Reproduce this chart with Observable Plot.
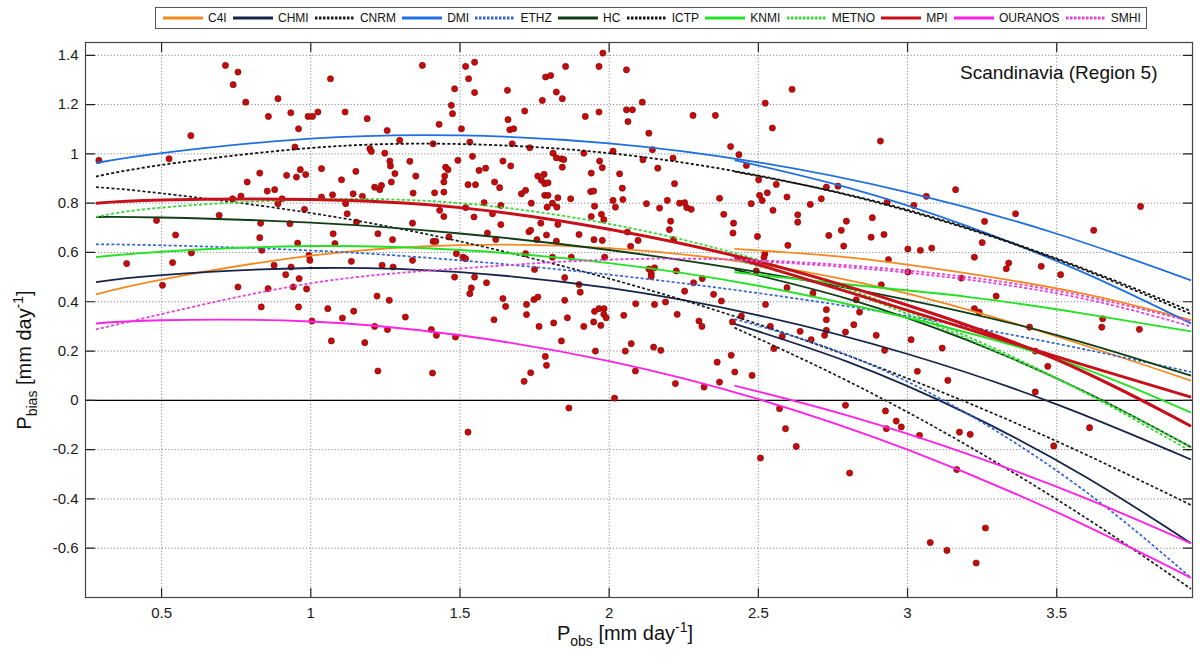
<!DOCTYPE html>
<html><head><meta charset="utf-8">
<script src="https://cdn.jsdelivr.net/npm/d3@7"></script>
<script src="https://cdn.jsdelivr.net/npm/@observablehq/plot@0.6"></script>
<style>
body{margin:0;background:#fff;font-family:"Liberation Sans",Arial,sans-serif;}
#legendWrap{height:34px;position:relative;}
#legend{position:absolute;left:155px;top:7px;width:992px;height:22px;border:1px solid #555;box-sizing:border-box;display:flex;align-items:center;justify-content:space-between;padding:0 5px 0 6px;font-size:12px;color:#111;}
.item{display:flex;align-items:center;gap:4px;}
</style></head><body>
<div id="legendWrap"><div id="legend"></div></div>
<div id="chart"></div>
<script>
// ---- data ----
const models = ["C4I","CHMI","CNRM","DMI","ETHZ","HC","ICTP","KNMI","METNO","MPI","OURANOS","SMHI"];
const fullX = [0.28, 0.5, 1.0, 1.5, 2.0, 2.5, 3.0, 3.5, 3.95];
const secX  = [2.42, 2.8, 3.2, 3.6, 3.95];

const c4iFull  = [0.43, 0.49, 0.587, 0.63, 0.618, 0.553, 0.433, 0.259, 0.08];
const chmiFull = [0.48, 0.508, 0.537, 0.52, 0.456, 0.345, 0.188, -0.016, -0.24];
const cnrmFull = [0.865, 0.84, 0.76, 0.645, 0.494, 0.309, 0.089, -0.166, -0.425];
const dmiFull  = [0.963, 1.003, 1.062, 1.075, 1.043, 0.966, 0.844, 0.676, 0.487];
const ethzFull = [0.633, 0.629, 0.608, 0.568, 0.51, 0.435, 0.342, 0.23, 0.115];
const hcFull   = [0.744, 0.742, 0.721, 0.677, 0.61, 0.52, 0.408, 0.265, 0.10];
const ictpFull = [0.908, 0.955, 1.024, 1.04, 1.003, 0.912, 0.769, 0.572, 0.35];
const knmiFull = [0.581, 0.603, 0.626, 0.61, 0.557, 0.465, 0.335, 0.168, -0.05];
const metnoFull= [0.744, 0.782, 0.815, 0.80, 0.716, 0.57, 0.361, 0.09, -0.207];
const mpiFull  = [0.80, 0.813, 0.815, 0.782, 0.694, 0.563, 0.386, 0.165, -0.105];
const ouraFull = [0.312, 0.325, 0.32, 0.264, 0.159, 0.005, -0.20, -0.454, -0.72];
const smhiFull = [0.288, 0.35, 0.475, 0.535, 0.571, 0.568, 0.527, 0.445, 0.32];

const c4iSec   = [0.615, 0.58, 0.515, 0.43, 0.325];
const chmiSec  = [0.31, 0.156, -0.054, -0.313, -0.58];
const cnrmSec  = [0.295, 0.078, -0.183, -0.479, -0.765];
const dmiSec   = [0.975, 0.863, 0.707, 0.513, 0.312];
const ethzSec  = [0.33, 0.183, -0.054, -0.373, -0.72];
const hcSec    = [0.53, 0.412, 0.244, 0.032, -0.19];
const ictpSec  = [0.928, 0.835, 0.70, 0.53, 0.362];
const knmiSec  = [0.52, 0.47, 0.42, 0.35, 0.28];
const metnoSec = [0.57, 0.44, 0.25, 0.03, -0.19];
const mpiSec   = [0.58, 0.44, 0.29, 0.14, 0.013];
const ouraSec  = [0.06, -0.062, -0.217, -0.399, -0.58];
const smhiSec  = [0.57, 0.54, 0.49, 0.41, 0.30];

const obsX = [0.29,0.383,0.483,0.503,0.525,0.537,0.547,0.598,0.60,0.693,0.714,0.74,0.756,0.738,0.756,0.766,0.782,0.787,0.829,0.829,0.832,0.834,0.836,0.854,0.857,0.858,0.877,0.879,0.89,0.89,0.904,0.916,0.919,0.93,0.933,0.934,0.941,0.947,0.952,0.956,0.959,0.961,0.959,0.965,0.979,0.983,0.986,0.991,0.994,0.997,1.006,1.024,1.036,1.036,1.057,1.066,1.073,1.075,1.081,1.103,1.106,1.115,1.117,1.122,1.136,1.142,1.144,1.151,1.153,1.173,1.189,1.198,1.203,1.214,1.222,1.225,1.231,1.237,1.239,1.248,1.256,1.263,1.265,1.267,1.27,1.274,1.282,1.276,1.298,1.317,1.332,1.341,1.343,1.341,1.352,1.374,1.41,1.415,1.43,1.432,1.41,1.419,1.446,1.446,1.446,1.449,1.452,1.46,1.463,1.471,1.475,1.482,1.482,1.488,1.493,
1.004,1.069,1.181,1.214,1.225,1.257,1.404,1.408,1.421,1.485,
1.519,1.549,1.529,1.549,1.505,1.533,1.542,1.586,1.564,1.527,1.552,1.519,1.547,1.581,1.616,1.633,1.644,1.67,1.659,1.661,1.667,1.68,1.675,1.637,1.637,1.609,1.62,1.592,1.51,1.519,1.549,1.538,1.533,1.589,1.644,1.653,1.614,1.706,1.72,1.734,1.717,1.739,1.731,1.737,1.758,1.72,1.75,1.748,1.761,1.723,1.723,1.765,1.761,1.773,1.784,1.795,1.782,1.776,1.787,1.804,1.823,1.843,1.854,1.784,1.795,1.81,1.828,1.871,1.825,1.792,1.812,1.823,1.84,1.843,1.848,1.771,1.828,1.79,1.823,1.81,1.873,1.899,1.851,1.899,1.903,1.851,1.86,1.814,1.915,1.915,1.94,1.938,1.948,1.951,1.94,1.949,1.974,1.982,1.92,1.966,1.966,1.979,1.968,1.977,1.977,1.985,1.951,1.966,1.983,1.982,1.99,1.948,1.972,2.013,2.035,2.044,2.013,2.021,2.046,2.058,2.058,2.078,2.063,2.111,2.133,2.145,2.113,2.163,2.214,2.219,2.125,2.169,2.195,2.236,2.253,2.26,2.275,2.061,2.072,2.097,2.206,2.202,2.216,2.141,2.141,2.133,2.152,2.225,2.283,2.253,2.312,2.049,2.089,2.152,2.189,2.228,2.301,2.311,2.281,2.356,2.37,2.384,2.407,2.417,2.415,2.435,2.46,2.476,2.497,2.501,2.504,2.513,2.523,2.53,2.547,2.549,2.56,2.599,2.596,2.613,2.632,2.632,2.674,2.711,2.728,2.767,2.778,2.795,2.736,2.786,2.596,2.524,2.683,2.728,2.728,2.493,2.522,2.519,
1.527,1.715,1.737,1.786,1.79,1.84,1.865,1.954,2.018,2.054,2.074,2.088,2.149,2.173,2.222,2.318,2.362,2.37,2.409,2.421,2.479,2.507,2.54,2.552,2.571,2.58,2.591,2.627,2.64,2.677,2.722,2.792,2.792,2.806,
2.82,2.895,2.923,2.926,2.962,2.929,2.979,3.012,3.033,3.04,3.116,3.135,2.728,2.443,2.413,2.35,2.376,
2.909,2.882,2.878,2.921,2.932,2.936,3.001,3.043,3.081,3.021,3.063,3.001,2.912,
3.161,3.362,3.258,3.25,3.224,3.339,3.331,3.448,3.513,3.624,3.781,3.18,3.297,3.654,3.651,3.777,3.409,3.224,3.24,2.828,2.839,
3.165,3.174,3.21,3.076,3.132,3.261,3.23,3.428,3.47,3.428,3.49,3.61];

const biasY = [0.974,0.555,0.73,0.467,0.98,0.559,0.671,1.074,0.598,0.751,1.359,1.281,1.332,0.818,0.46,0.829,1.21,0.886,0.922,0.66,0.719,0.379,0.609,0.849,0.453,1.152,0.548,0.855,1.224,0.798,0.818,0.51,0.913,0.717,1.167,0.541,0.46,1.028,0.906,0.638,1.102,0.494,0.379,0.936,0.775,0.916,0.452,1.152,0.588,0.568,1.152,1.17,0.94,0.825,0.372,1.305,0.834,0.676,0.636,0.895,0.334,1.17,0.798,0.757,0.564,0.838,0.362,0.929,0.723,0.828,1.143,1.021,1.01,0.865,0.423,0.676,0.855,0.872,0.548,1.003,1.095,0.406,0.971,0.951,0.886,0.652,0.92,0.541,1.055,0.338,0.97,0.719,0.841,0.568,0.91,1.359,1.041,0.842,1.12,0.771,0.645,0.645,0.886,0.845,0.746,0.91,0.946,0.936,0.663,1.197,1.163,1.264,0.50,0.595,0.974,
0.322,0.241,0.234,0.30,0.119,0.287,0.287,0.111,0.264,0.257,
1.355,1.372,1.305,1.249,1.102,1.048,0.99,0.942,0.933,0.875,0.875,0.782,0.744,0.802,0.886,0.863,0.971,0.951,1.258,1.139,1.098,1.102,1.041,0.791,0.713,0.757,0.653,0.679,0.581,0.575,0.50,0.456,0.433,0.477,0.413,0.381,0.327,0.838,0.852,1.025,1.174,0.80,0.684,0.69,0.652,0.595,0.531,0.409,0.419,0.389,0.348,0.30,0.91,0.893,0.879,0.883,0.917,1.217,1.312,1.318,1.251,1.224,1.355,0.832,0.832,0.80,0.822,0.818,0.784,0.784,1.003,0.984,0.98,0.946,0.977,0.719,0.714,0.671,0.646,0.581,0.581,0.673,0.498,0.47,0.439,0.406,0.335,0.314,0.30,1.003,0.922,0.847,0.849,0.788,0.746,0.652,0.755,0.733,1.152,1.17,1.355,1.409,0.971,0.944,0.649,0.581,0.361,0.372,0.372,0.349,0.335,0.318,0.304,1.011,0.919,0.861,0.811,0.784,0.815,1.341,1.179,1.179,1.131,1.21,1.084,1.017,0.976,0.942,0.983,0.879,0.798,0.78,0.811,0.80,0.802,0.782,0.775,0.683,0.625,0.649,0.727,0.693,0.652,0.514,0.503,0.533,0.538,0.525,0.477,0.443,0.494,0.345,0.392,0.389,0.399,0.349,0.322,0.30,1.156,1.156,0.82,0.755,1.03,0.719,0.679,0.997,0.953,0.798,0.665,0.895,0.832,0.811,1.206,0.842,1.105,0.771,0.876,0.629,0.825,1.262,0.753,0.723,0.795,0.818,0.865,0.869,0.69,0.727,0.669,0.626,0.457,0.389,0.435,0.368,0.327,0.525,0.595,0.581,
-0.129,0.077,0.112,0.178,0.142,0.241,-0.031,0.20,0.009,0.20,0.23,0.119,0.216,0.203,0.068,0.054,0.155,0.074,0.183,0.115,0.101,-0.234,0.30,0.21,-0.034,0.26,-0.115,-0.187,0.28,0.246,0.264,0.277,-0.02,-0.295,
0.307,0.264,0.203,-0.043,-0.084,-0.115,-0.108,0.246,0.118,-0.142,0.212,0.081,0.284,0.342,0.318,0.43,0.403,
1.052,0.741,0.662,0.673,0.805,0.571,0.614,0.609,0.618,0.791,0.828,0.521,0.469,
0.855,0.757,0.726,0.64,0.581,0.557,0.534,0.544,0.51,0.69,0.787,0.496,0.423,0.331,0.297,0.288,0.297,0.372,0.358,0.408,0.358,
-0.281,-0.129,-0.138,-0.577,-0.609,-0.518,-0.66,0.20,0.138,0.034,-0.185,-0.111];

const xTicks = [0.5, 1, 1.5, 2, 2.5, 3, 3.5];
const yTicks = [-0.6, -0.4, -0.2, 0, 0.2, 0.4, 0.6, 0.8, 1, 1.2, 1.4];
const regionTitle = "Scandinavia (Region 5)";

// ---- styling (not data) ----
const fullSeries = [c4iFull, chmiFull, cnrmFull, dmiFull, ethzFull, hcFull, ictpFull, knmiFull, metnoFull, mpiFull, ouraFull, smhiFull];
const secSeries  = [c4iSec, chmiSec, cnrmSec, dmiSec, ethzSec, hcSec, ictpSec, knmiSec, metnoSec, mpiSec, ouraSec, smhiSec];
const DOT = "3,2.2";
const style = {
  C4I:{c:"#f5891f",d:null,w:1.8}, CHMI:{c:"#16244a",d:null,w:1.8}, CNRM:{c:"#1a1a1a",d:DOT,w:1.7},
  DMI:{c:"#1f6fe0",d:null,w:1.8}, ETHZ:{c:"#2f63d6",d:DOT,w:1.7}, HC:{c:"#0f3d14",d:null,w:1.8},
  ICTP:{c:"#111111",d:DOT,w:1.8}, KNMI:{c:"#22e322",d:null,w:1.9}, METNO:{c:"#30dc30",d:DOT,w:1.8},
  MPI:{c:"#c8101a",d:null,w:3}, OURANOS:{c:"#ff22e6",d:null,w:1.9}, SMHI:{c:"#e63fe0",d:DOT,w:1.8}
};

const points = obsX.map((x,i)=>({x, y: biasY[i]}));

const lineMarks = [];
models.forEach((m,i)=>{
  const s = style[m];
  const rows = [
    ...fullX.map((x,j)=>({x, y: fullSeries[i][j], part:"a"})),
    ...secX.map((x,j)=>({x, y: secSeries[i][j], part:"b"}))
  ];
  const opts = {x:"x", y:"y", z:"part", stroke:s.c, strokeWidth:s.w, curve:"natural", strokeLinecap:"butt"};
  if (s.d) opts.strokeDasharray = s.d;
  lineMarks.push(Plot.line(rows, opts));
});

const tickShape = {draw(ctx, l){ ctx.moveTo(0,0); ctx.lineTo(0,-l); }};
const fmt = d => String(+d.toFixed(1));

const chart = Plot.plot({
  width:1200, height:628,
  marginTop:8, marginBottom:65, marginLeft:85, marginRight:8,
  x:{domain:[0.245,3.955]},
  y:{domain:[-0.8,1.452]},
  style:{fontFamily:'"Liberation Sans", Arial, sans-serif', fontSize:"15px", color:"#1a1a1a", background:"#fff", overflow:"visible"},
  marks:[
    Plot.gridX(xTicks, {stroke:"#8a8a8a", strokeOpacity:1, strokeDasharray:"1.2,2"}),
    Plot.gridY(yTicks, {stroke:"#8a8a8a", strokeOpacity:1, strokeDasharray:"1.2,2"}),
    Plot.ruleY([0], {stroke:"#000", strokeWidth:1.3}),
    Plot.dot(points, {x:"x", y:"y", r:3.1, fill:"#c30d0d", stroke:"#7d0000", strokeWidth:0.6}),
    ...lineMarks,
    Plot.vector(yTicks, {y:d=>d, frameAnchor:"left", rotate:90, length:9, anchor:"start", shape:tickShape, stroke:"#222", strokeWidth:1.2}),
    Plot.vector(yTicks, {y:d=>d, frameAnchor:"right", rotate:-90, length:9, anchor:"start", shape:tickShape, stroke:"#222", strokeWidth:1.2}),
    Plot.vector(xTicks, {x:d=>d, frameAnchor:"bottom", rotate:0, length:9, anchor:"start", shape:tickShape, stroke:"#222", strokeWidth:1.2}),
    Plot.vector(xTicks, {x:d=>d, frameAnchor:"top", rotate:180, length:9, anchor:"start", shape:tickShape, stroke:"#222", strokeWidth:1.2}),
    Plot.frame({stroke:"#444", strokeWidth:1.2}),
    Plot.axisX(xTicks, {tickSize:0, tickPadding:10, tickFormat:fmt, label:null, fontSize:15}),
    Plot.axisY(yTicks, {tickSize:0, tickPadding:7, tickFormat:fmt, label:null, fontSize:15}),
    Plot.text([regionTitle], {frameAnchor:"top-right", dx:-35, dy:30, lineAnchor:"middle", textAnchor:"end", fontSize:19, fill:"#111"})
  ]
});
document.getElementById("chart").appendChild(chart);

// axis labels with sub/superscripts
const svg = d3.select(chart);
const xl = svg.append("text").attr("x",625).attr("y",606).attr("text-anchor","middle")
  .attr("font-size",20).attr("fill","#111");
xl.append("tspan").text("P");
xl.append("tspan").attr("dy",6).attr("font-size",14).text("obs");
xl.append("tspan").attr("dy",-6).text(" [mm day");
xl.append("tspan").attr("dy",-8).attr("font-size",14).text("-1");
xl.append("tspan").attr("dy",8).text("]");

const yl = svg.append("text").attr("transform","translate(31,326) rotate(-90)").attr("text-anchor","middle")
  .attr("font-size",20).attr("fill","#111");
yl.append("tspan").text("P");
yl.append("tspan").attr("dy",6).attr("font-size",14).text("bias");
yl.append("tspan").attr("dy",-6).text(" [mm day");
yl.append("tspan").attr("dy",-8).attr("font-size",14).text("-1");
yl.append("tspan").attr("dy",8).text("]");

// legend
const lg = document.getElementById("legend");
models.forEach(m=>{
  const s = style[m];
  const it = document.createElement("div"); it.className="item";
  it.innerHTML = `<svg width="42" height="6"><line x1="1" y1="3" x2="41" y2="3" stroke="${s.c}" stroke-width="3" ${s.d?'stroke-dasharray="2.5,1.5"':''}/></svg><span>${m}</span>`;
  lg.appendChild(it);
});
</script>
</body></html>
